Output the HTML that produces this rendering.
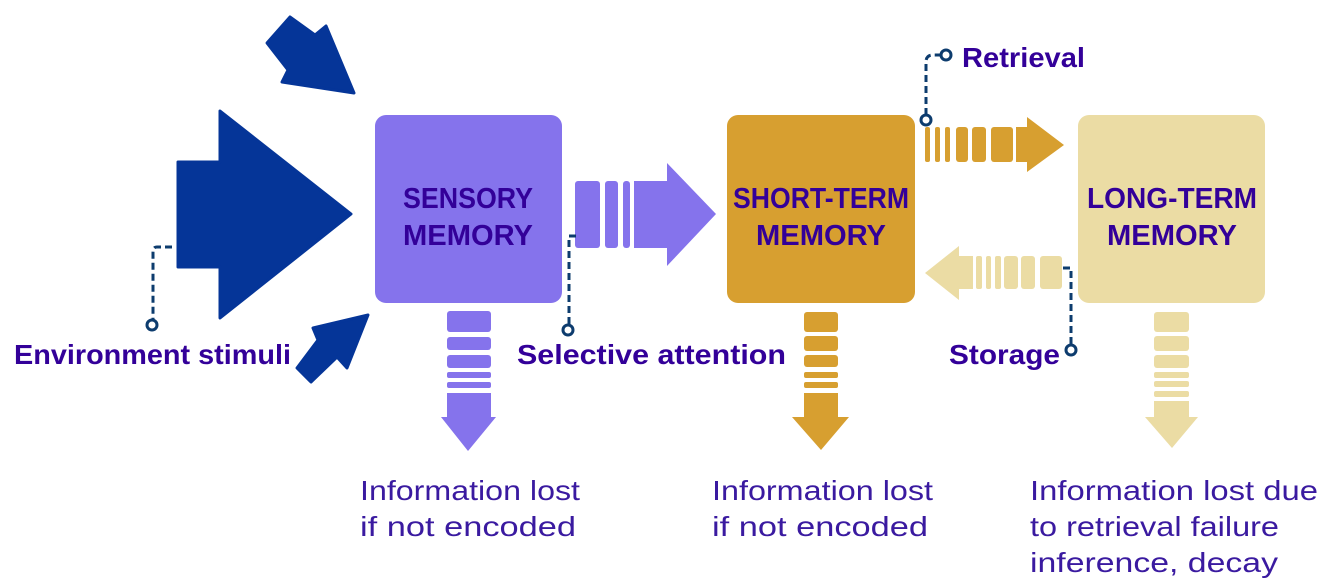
<!DOCTYPE html>
<html><head><meta charset="utf-8"><style>
html,body{margin:0;padding:0;background:#fff;}
svg{display:block;}
text{font-family:"Liberation Sans",sans-serif;}
.b{font-weight:bold;fill:#330099;font-size:28px;}
.n{fill:#3a1aa0;font-size:28px;}
.d{fill:none;stroke:#0d3c6e;stroke-width:3;stroke-dasharray:7,4;}
.c{fill:#fff;stroke:#0d3c6e;stroke-width:3;}
</style></head><body>
<svg width="1329" height="581" viewBox="0 0 1329 581">
<g fill="#053598" stroke="#053598" stroke-width="3" stroke-linejoin="round">
<polygon points="178,162 220,162 220,111 351,214 220,318 220,267 178,267"/>
<polygon points="290,17 315,35 326,26 354,93 282,82 288,70 267,43"/>
<polygon points="368,315 347,368 337,357 311,382 297,368 318,340 313,328"/>
</g>
<rect x="375" y="115" width="187" height="188" rx="11" fill="#8573ec"/>
<rect x="727" y="115" width="188" height="188" rx="11" fill="#d79f30"/>
<rect x="1078" y="115" width="187" height="188" rx="11" fill="#ebdca4"/>
<g class="b" text-anchor="middle" style="font-size:29px">
<text x="468" y="208" textLength="130" lengthAdjust="spacingAndGlyphs">SENSORY</text>
<text x="468" y="245" textLength="130" lengthAdjust="spacingAndGlyphs">MEMORY</text>
<text x="821" y="208" textLength="176" lengthAdjust="spacingAndGlyphs">SHORT-TERM</text>
<text x="821" y="245" textLength="130" lengthAdjust="spacingAndGlyphs">MEMORY</text>
<text x="1172" y="208" textLength="170" lengthAdjust="spacingAndGlyphs">LONG-TERM</text>
<text x="1172" y="245" textLength="130" lengthAdjust="spacingAndGlyphs">MEMORY</text>
</g>
<g fill="#8573ec">
<rect x="575" y="181" width="25" height="67" rx="3"/>
<rect x="605" y="181" width="13" height="67" rx="3"/>
<rect x="623" y="181" width="7" height="67" rx="3"/>
<polygon points="634,181 667,181 667,163 716,214 667,266 667,248 634,248"/>
<rect x="447" y="311" width="44" height="21" rx="3"/>
<rect x="447" y="337" width="44" height="13" rx="3"/>
<rect x="447" y="355" width="44" height="13" rx="3"/>
<rect x="447" y="372" width="44" height="6" rx="2"/>
<rect x="447" y="382" width="44" height="6" rx="2"/>
<polygon points="447,393 491,393 491,417 496,417 468,451 441,417 447,417"/>
</g>
<g fill="#d79f30">
<rect x="925" y="127" width="5" height="35" rx="2"/>
<rect x="935" y="127" width="5" height="35" rx="2"/>
<rect x="945" y="127" width="5" height="35" rx="2"/>
<rect x="956" y="127" width="12" height="35" rx="3"/>
<rect x="972" y="127" width="14" height="35" rx="3"/>
<rect x="991" y="127" width="22" height="35" rx="3"/>
<polygon points="1016,127 1027,127 1027,117 1064,145 1027,172 1027,162 1016,162"/>
<rect x="804" y="312" width="34" height="20" rx="3"/>
<rect x="804" y="336" width="34" height="15" rx="3"/>
<rect x="804" y="355" width="34" height="12" rx="3"/>
<rect x="804" y="372" width="34" height="6" rx="2"/>
<rect x="804" y="382" width="34" height="6" rx="2"/>
<polygon points="804,393 838,393 838,417 849,417 821,450 792,417 804,417"/>
</g>
<g fill="#ebdca4">
<polygon points="925,273 959,246 959,256 973,256 973,289 959,289 959,300"/>
<rect x="976" y="256" width="6" height="33" rx="2"/>
<rect x="986" y="256" width="5" height="33" rx="2"/>
<rect x="995" y="256" width="6" height="33" rx="2"/>
<rect x="1004" y="256" width="14" height="33" rx="3"/>
<rect x="1021" y="256" width="14" height="33" rx="3"/>
<rect x="1040" y="256" width="22" height="33" rx="3"/>
<rect x="1154" y="312" width="35" height="20" rx="3"/>
<rect x="1154" y="336" width="35" height="15" rx="3"/>
<rect x="1154" y="355" width="35" height="13" rx="3"/>
<rect x="1154" y="372" width="35" height="6" rx="2"/>
<rect x="1154" y="381" width="35" height="6" rx="2"/>
<rect x="1154" y="391" width="35" height="6" rx="2"/>
<polygon points="1154,401 1189,401 1189,417 1198,417 1172,448 1145,417 1154,417"/>
</g>
<path class="d" d="M172,247 H157 Q153,247 153,252 V320"/>
<circle class="c" cx="152" cy="325" r="5"/>
<path class="d" d="M576,236 H569 V326"/>
<circle class="c" cx="568" cy="330" r="5"/>
<path class="d" d="M926,115 V62 Q926,55 933,55 H941"/>
<circle class="c" cx="926" cy="120" r="5"/>
<circle class="c" cx="946" cy="55" r="5"/>
<path class="d" d="M1063,268 H1071 V345"/>
<circle class="c" cx="1071" cy="350" r="5"/>
<text class="b" x="14" y="364" textLength="277" lengthAdjust="spacingAndGlyphs">Environment stimuli</text>
<text class="b" x="517" y="364" textLength="269" lengthAdjust="spacingAndGlyphs">Selective attention</text>
<text class="b" x="949" y="364" textLength="111" lengthAdjust="spacingAndGlyphs">Storage</text>
<text class="b" x="962" y="67" textLength="123" lengthAdjust="spacingAndGlyphs">Retrieval</text>
<text class="n" x="360" y="500" textLength="220" lengthAdjust="spacingAndGlyphs">Information lost</text>
<text class="n" x="360" y="536" textLength="216" lengthAdjust="spacingAndGlyphs">if not encoded</text>
<text class="n" x="712" y="500" textLength="221" lengthAdjust="spacingAndGlyphs">Information lost</text>
<text class="n" x="712" y="536" textLength="216" lengthAdjust="spacingAndGlyphs">if not encoded</text>
<text class="n" x="1030" y="500" textLength="288" lengthAdjust="spacingAndGlyphs">Information lost due</text>
<text class="n" x="1030" y="536" textLength="249" lengthAdjust="spacingAndGlyphs">to retrieval failure</text>
<text class="n" x="1030" y="572" textLength="248" lengthAdjust="spacingAndGlyphs">inference, decay</text>
</svg>
</body></html>
